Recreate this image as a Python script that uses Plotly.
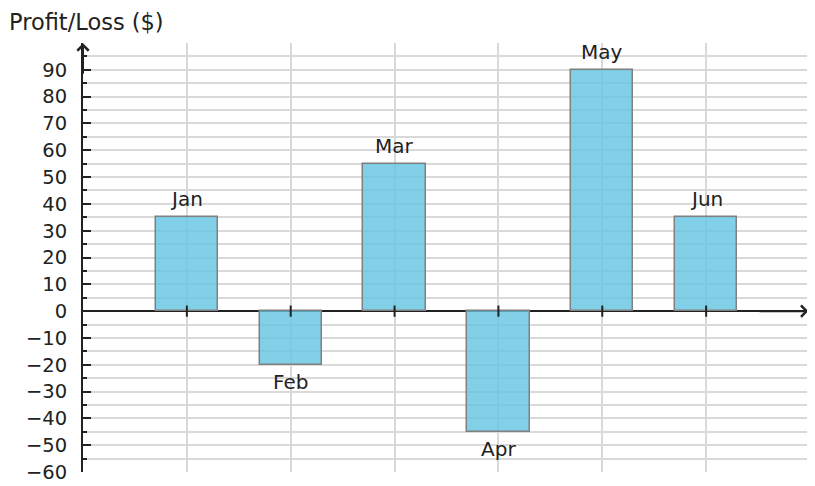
import plotly.graph_objects as go

months = ["Jan", "Feb", "Mar", "Apr", "May", "Jun"]
positions = [1, 2, 3, 4, 5, 6]
values = [35, -20, 55, -45, 90, 35]
ytick_vals = list(range(-60, 100, 10))
ytick_text = [str(v).replace("-", "\u2212") for v in ytick_vals]
minor_vals = list(range(-55, 100, 10)) + [100]
x_grid_range = [0, 7]
y_range = [-60, 100]
axis_zero = [0] * len(positions)

INK = "#222222"
GRID = "#d9d9d9"

fig = go.Figure()

fig.add_trace(go.Scatter(
    x=positions, y=axis_zero, mode="markers",
    marker=dict(symbol="line-ns", size=8, line=dict(width=2, color=INK)),
    hoverinfo="skip", showlegend=False,
))

fig.add_trace(go.Bar(
    x=positions, y=values, width=0.6,
    marker=dict(color="rgba(99,195,226,0.8)", line=dict(color="#808080", width=1.5)),
    hoverinfo="skip", showlegend=False,
))

annotations = []
for p, m, v in zip(positions, months, values):
    if v >= 0:
        annotations.append(dict(x=p, y=v, xref="x", yref="y", text=m, showarrow=False,
                                yanchor="bottom", yshift=4, font=dict(size=20, color=INK)))
    else:
        annotations.append(dict(x=p, y=v, xref="x", yref="y", text=m, showarrow=False,
                                yanchor="top", yshift=-3, font=dict(size=20, color=INK)))

# axis arrowheads
annotations.append(dict(x=0, y=y_range[1] - 0.1, ax=0, ay=y_range[1] - 12, xref="x", yref="y",
                        axref="x", ayref="y", text="", showarrow=True, arrowhead=4,
                        arrowsize=1.1, arrowwidth=2, arrowcolor=INK, standoff=0))
annotations.append(dict(x=x_grid_range[1] - 0.015, y=0, ax=x_grid_range[1] - 0.5, ay=0, xref="x", yref="y",
                        axref="x", ayref="y", text="", showarrow=True, arrowhead=4,
                        arrowsize=1.1, arrowwidth=2, arrowcolor=INK, standoff=0))

annotations.append(dict(x=0, y=1, xref="paper", yref="paper", xanchor="left", yanchor="top",
                        text="Profit/Loss ($)", showarrow=False, xshift=-75, yshift=35,
                        borderpad=0, font=dict(size=22.5, color=INK)))

# the page body adds an 8px offset, so the figure is sized to fill the rest of the window
fig.update_layout(
    width=807, height=478,
    margin=dict(l=75, r=5, t=35, b=14, autoexpand=False),
    paper_bgcolor="white", plot_bgcolor="white",
    font=dict(family="DejaVu Sans", size=19.5, color=INK),
    bargap=0,
    annotations=annotations,
    xaxis=dict(
        range=x_grid_range, tick0=0, dtick=1, showticklabels=False, ticks="",
        showgrid=True, gridcolor=GRID, gridwidth=1.5, zeroline=False, showline=False,
        fixedrange=True, automargin=False,
    ),
    yaxis=dict(
        range=y_range, tickmode="array", tickvals=ytick_vals, ticktext=ytick_text,
        ticks="inside", ticklen=8, tickwidth=2, tickcolor=INK,
        showgrid=True, gridcolor=GRID, gridwidth=1.5,
        showline=True, linewidth=2, linecolor=INK,
        zeroline=True, zerolinecolor=INK, zerolinewidth=2,
        ticklabelstandoff=10, layer="below traces", automargin=False,
        minor=dict(tickmode="array", tickvals=minor_vals, ticks="inside", ticklen=4,
                   tickwidth=2, tickcolor=INK, showgrid=True, gridcolor=GRID, gridwidth=1.5),
        fixedrange=True,
    ),
)

fig.write_html("out.html")
